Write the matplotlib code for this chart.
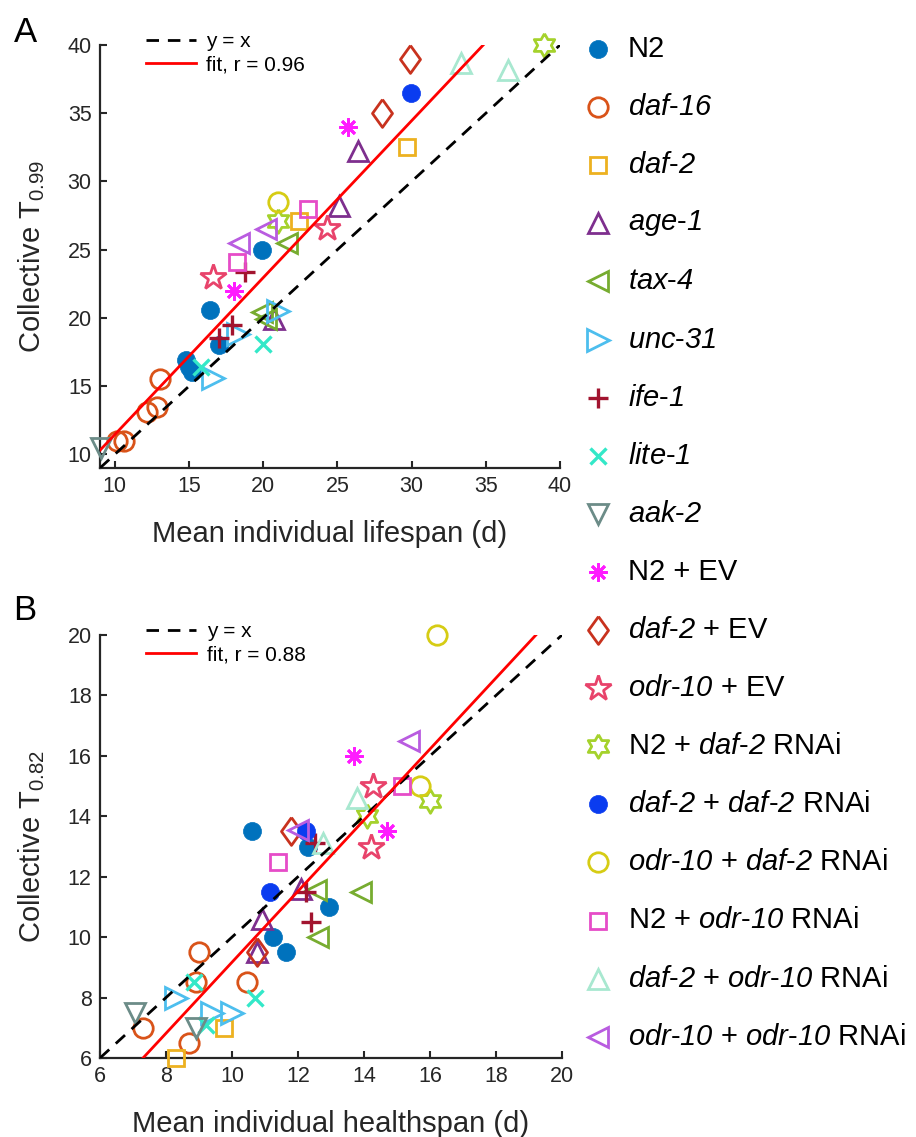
import matplotlib
matplotlib.use("Agg")
import matplotlib.pyplot as plt
import numpy as np

plt.rcParams['font.family'] = ['Liberation Sans', 'DejaVu Sans']
plt.rcParams['mathtext.fontset'] = 'custom'
plt.rcParams['mathtext.rm'] = 'Liberation Sans'
plt.rcParams['mathtext.it'] = 'Liberation Sans:italic'
plt.rcParams['mathtext.sf'] = 'Liberation Sans:italic'
plt.rcParams['mathtext.bf'] = 'Liberation Sans:bold'

# ---------------- data ----------------
strains = ['N2', 'daf-16', 'daf-2', 'age-1', 'tax-4', 'unc-31', 'ife-1', 'lite-1', 'aak-2',
           'N2 + EV', 'daf-2 + EV', 'odr-10 + EV', 'N2 + daf-2 RNAi', 'daf-2 + daf-2 RNAi',
           'odr-10 + daf-2 RNAi', 'N2 + odr-10 RNAi', 'daf-2 + odr-10 RNAi', 'odr-10 + odr-10 RNAi']

legend_labels = ['N2', r'$\mathsf{daf}$-$\mathsf{16}$', r'$\mathsf{daf}$-$\mathsf{2}$',
                 r'$\mathsf{age}$-$\mathsf{1}$', r'$\mathsf{tax}$-$\mathsf{4}$',
                 r'$\mathsf{unc}$-$\mathsf{31}$', r'$\mathsf{ife}$-$\mathsf{1}$',
                 r'$\mathsf{lite}$-$\mathsf{1}$', r'$\mathsf{aak}$-$\mathsf{2}$',
                 'N2 + EV', r'$\mathsf{daf}$-$\mathsf{2}$ + EV', r'$\mathsf{odr}$-$\mathsf{10}$ + EV',
                 r'N2 + $\mathsf{daf}$-$\mathsf{2}$ RNAi',
                 r'$\mathsf{daf}$-$\mathsf{2}$ + $\mathsf{daf}$-$\mathsf{2}$ RNAi',
                 r'$\mathsf{odr}$-$\mathsf{10}$ + $\mathsf{daf}$-$\mathsf{2}$ RNAi',
                 r'N2 + $\mathsf{odr}$-$\mathsf{10}$ RNAi',
                 r'$\mathsf{daf}$-$\mathsf{2}$ + $\mathsf{odr}$-$\mathsf{10}$ RNAi',
                 r'$\mathsf{odr}$-$\mathsf{10}$ + $\mathsf{odr}$-$\mathsf{10}$ RNAi']

# Panel A: mean individual lifespan (x) vs collective T0.99 (y)
lifespan_x = [
    [14.8, 15.0, 15.2, 16.4, 17.0, 19.9],
    [10.15, 10.6, 12.2, 12.85, 13.05],
    [22.4, 29.7],
    [20.7, 25.1, 26.4],
    [19.9, 20.2, 21.6],
    [16.6, 18.3, 21.0],
    [17.0, 17.9, 18.8],
    [15.8, 20.0],
    [9.1],
    [18.0, 25.7],
    [28.0, 29.9],
    [16.6, 24.3],
    [21.0, 38.9],
    [29.95],
    [21.0],
    [18.25, 23.05],
    [33.3, 36.5],
    [18.4, 20.2],
]
lifespan_y = [
    [16.9, 16.4, 16.0, 20.6, 18.0, 25.0],
    [11.0, 11.0, 13.1, 13.5, 15.5],
    [27.1, 32.5],
    [19.9, 28.2, 32.2],
    [20.4, 19.9, 25.5],
    [15.6, 18.8, 20.5],
    [18.5, 19.5, 23.4],
    [16.4, 18.1],
    [10.5],
    [22.0, 34.0],
    [35.0, 39.0],
    [23.0, 26.6],
    [27.1, 40.0],
    [36.5],
    [28.5],
    [24.1, 28.0],
    [38.7, 38.2],
    [25.5, 26.5],
]

# Panel B: mean individual healthspan (x) vs collective T0.82 (y)
healthspan_x = [
    [10.6, 11.25, 11.65, 12.3, 12.95],
    [7.3, 8.7, 8.9, 9.0, 10.45],
    [8.3, 9.75],
    [10.75, 10.9, 12.1],
    [12.55, 12.6, 13.9],
    [8.3, 9.4, 10.0],
    [12.25, 12.4, 12.5],
    [8.85, 9.2, 10.7],
    [7.05, 8.9],
    [13.7, 14.7],
    [10.75, 11.8],
    [14.2, 14.27],
    [14.1, 16.0],
    [11.15, 12.25],
    [15.7, 16.2],
    [11.4, 15.15],
    [12.75, 13.8],
    [12.0, 15.35],
]
healthspan_y = [
    [13.5, 10.0, 9.5, 13.0, 11.0],
    [7.0, 6.5, 8.5, 9.5, 8.5],
    [6.0, 7.0],
    [9.5, 10.6, 11.6],
    [11.55, 10.0, 11.5],
    [8.0, 7.5, 7.5],
    [11.5, 10.5, 13.1],
    [8.5, 7.1, 8.0],
    [7.5, 7.0],
    [16.0, 13.5],
    [9.5, 13.5],
    [13.0, 15.0],
    [14.0, 14.5],
    [11.5, 13.5],
    [15.0, 20.0],
    [12.5, 15.0],
    [13.1, 14.6],
    [13.55, 16.5],
]

# linear fits: (slope, intercept)
fit_A = [1.15, -0.05]
fit_B = [1.176, -2.59]
r_A = 0.96
r_B = 0.88

xticks_A = [10, 15, 20, 25, 30, 35, 40]
yticks_A = [10, 15, 20, 25, 30, 35, 40]
xticks_B = [6, 8, 10, 12, 14, 16, 18, 20]
yticks_B = [6, 8, 10, 12, 14, 16, 18, 20]

# ---------------- styles ----------------
colors = ['#0072BD', '#D95319', '#EDB120', '#7E2F8E', '#77AC30', '#4DBEEE', '#A2142F',
          '#33E8C8', '#6C8C88', '#FF1CFF', '#C8321E', '#E8436B', '#A5D22C', '#0A3CF0',
          '#D6CC14', '#E64CC8', '#A8E8D0', '#B95CE0']
diamond = [(0, 1), (0.72, 0), (0, -1), (-0.72, 0), (0, 1)]
_ang = np.pi / 2 + np.arange(12) * np.pi / 6
_rad = np.where(np.arange(12) % 2 == 0, 1.0, 0.577)
hexagram = list(zip(_rad * np.cos(_ang), _rad * np.sin(_ang))) + [(0.0, 1.0)]
markers = ['o', 'o', 's', '^', '<', '>', '+', 'x', 'v',
           (8, 2, 0), diamond, '*', hexagram, 'o', 'o', 's', '^', '<']
sizes = [13, 14, 11.5, 15, 15, 15.5, 14, 11, 15, 13, 20, 19, 17, 13, 14, 11.5, 15, 15]
filled = [True, False, False, False, False, False, True, True, False,
          True, False, False, False, True, False, False, False, False]

AX_COLOR = '#262626'


def draw_series(ax, xs, ys, i, **kw):
    if filled[i] and markers[i] == 'o':
        return ax.plot(xs, ys, linestyle='none', marker='o', markersize=sizes[i],
                       markerfacecolor=colors[i], markeredgecolor=colors[i],
                       markeredgewidth=0.5, **kw)
    mew = 2.4 if markers[i] in ('+', 'x') else 2.0
    return ax.plot(xs, ys, linestyle='none', marker=markers[i], markersize=sizes[i],
                   markerfacecolor='none', markeredgecolor=colors[i],
                   markeredgewidth=mew, **kw)


fig = plt.figure(figsize=(9.16, 11.37), dpi=100)

axA = fig.add_axes([100 / 916, 1 - 468 / 1137, 460 / 916, 423 / 1137])
axB = fig.add_axes([100 / 916, 1 - 1058 / 1137, 462 / 916, 423 / 1137])

panels = [
    (axA, lifespan_x, lifespan_y, fit_A, r_A, (9, 40), (9, 40), xticks_A, yticks_A,
     'Mean individual lifespan (d)', r'Collective T$_{\mathrm{0.99}}$'),
    (axB, healthspan_x, healthspan_y, fit_B, r_B, (6, 20), (6, 20), xticks_B, yticks_B,
     'Mean individual healthspan (d)', r'Collective T$_{\mathrm{0.82}}$'),
]

for ax, xs_all, ys_all, fit, r, xlim, ylim, xt, yt, xl, yl in panels:
    for i in range(len(strains)):
        draw_series(ax, xs_all[i], ys_all[i], i, zorder=3 + i * 0.01, clip_on=False)
    lo, hi = xlim
    xx = np.array([lo, hi])
    h1, = ax.plot(xx, xx, color='black', linewidth=2.0, dashes=(4.5, 3.2), zorder=5)
    h2, = ax.plot(xx, fit[0] * xx + fit[1], color='#FF0000', linewidth=2.0, zorder=5)
    ax.set_xlim(xlim)
    ax.set_ylim(ylim)
    ax.set_xticks(xt)
    ax.set_yticks(yt)
    ax.tick_params(direction='in', length=5, width=1.5, colors=AX_COLOR,
                   labelsize=15.5, labelcolor=AX_COLOR, pad=6)
    for s in ['top', 'right']:
        ax.spines[s].set_visible(False)
    for s in ['left', 'bottom']:
        ax.spines[s].set_color(AX_COLOR)
        ax.spines[s].set_linewidth(1.6)
    ax.set_xlabel(xl, fontsize=21, color=AX_COLOR, labelpad=16)
    ax.set_ylabel(yl, fontsize=21, color=AX_COLOR, labelpad=15)
    ax.legend([h1, h2], ['y = x', 'fit, r = %.2f' % r], loc='upper left',
              bbox_to_anchor=(0.10, 1.03), frameon=False, fontsize=15,
              handlelength=2.4, handletextpad=0.5, labelspacing=0.2,
              borderpad=0, borderaxespad=0)

fig.text(25 / 916, 1 - 32 / 1137, 'A', fontsize=25, ha='center', va='center')
fig.text(25 / 916, 1 - 610 / 1137, 'B', fontsize=25, ha='center', va='center')

# legend of strains on the right
lax = fig.add_axes([0, 0, 1, 1])
lax.set_xlim(0, 916)
lax.set_ylim(1137, 0)
lax.axis('off')
for i in range(len(strains)):
    yy = 49 + i * 58.1
    draw_series(lax, [598], [yy], i)
    lax.text(628, yy, legend_labels[i], fontsize=21, va='center', ha='left', color='black')

fig.savefig('out.png', dpi=100)
